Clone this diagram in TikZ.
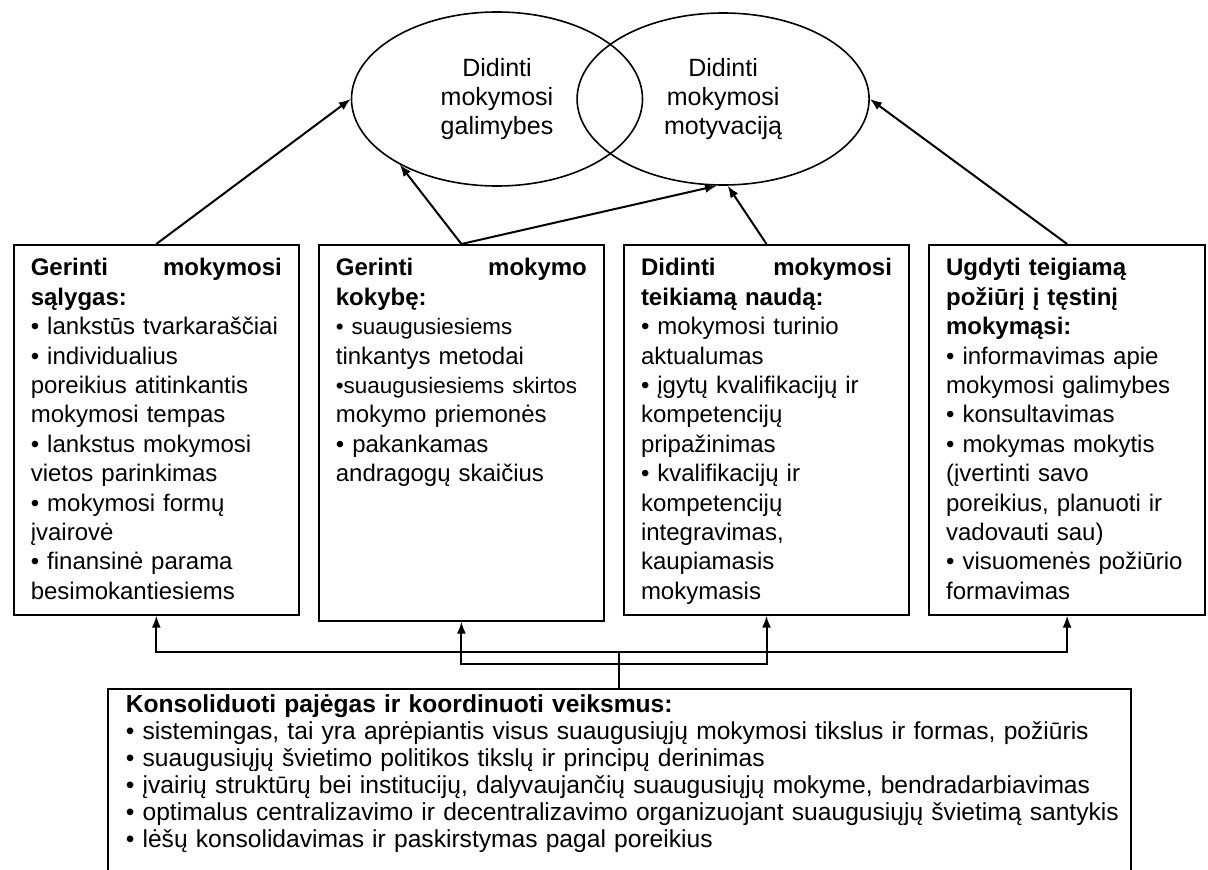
\documentclass[tikz,border=0pt]{standalone}
\usepackage{fontspec}
\setmainfont{Liberation Sans}
\usetikzlibrary{positioning,arrows.meta,shapes}
\tikzstyle{goalell}=[ellipse, draw, line width=1.6pt, inner sep=0pt, align=center,
font=\fontsize{25}{29}\selectfont]
\tikzstyle{taskbox}=[rectangle, draw, line width=1.6pt, inner xsep=17pt, inner ysep=13pt,
text width=251pt, align=left, text height=18pt, text depth=326pt, font=\fontsize{24}{29.4}\selectfont]
\tikzstyle{basebox}=[rectangle, draw, line width=1.6pt, inner xsep=18pt, inner ysep=6pt,
text width=987pt, align=left, text height=18pt, text depth=200pt, font=\fontsize{24.6}{27}\selectfont]
\tikzstyle{line}=[-, line width=2pt]
\tikzstyle{arr}=[-{Latex[length=12pt,width=9pt]}, line width=2pt]

\begin{document}
\begin{tikzpicture}[x=1pt, y=-1pt]

    \useasboundingbox (0,0) rectangle (1208,870);

% Goals
    \node (galim) [goalell, minimum width=291pt, minimum height=174pt] at (497,99) {Didinti\\ mokymosi\\ galimybes};
    \node (motyv) [goalell, minimum width=292pt, minimum height=172pt, right=-67pt of galim] {Didinti\\ mokymosi\\ motyvaciją};

% Tasks
    \node (salyg) [taskbox, anchor=north west] at (13,244)
        {\textbf{Gerinti\hfill mokymosi}\hspace*{15pt}\\ \textbf{sąlygas:}\\
        • lankstūs tvarkaraščiai\\ • individualius\\ poreikius atitinkantis\\ mokymosi tempas\\
        • lankstus mokymosi\\ vietos parinkimas\\ • mokymosi formų\\ įvairovė\\
        • finansinė parama\\ besimokantiesiems};
    \node (kokyb) [taskbox, text depth=332pt, right=18.5pt of salyg.north east, anchor=north west]
        {\textbf{Gerinti\hfill mokymo}\hspace*{37pt}\\ \textbf{kokybę:}\\
        {\fontsize{22.4}{29.4}\selectfont • suaugusiesiems}\\ tinkantys metodai\\
        \mbox{\fontsize{22.4}{29.4}\selectfont •suaugusiesiems skirtos}\\ mokymo priemonės\\
        • pakankamas\\ andragogų skaičius};
    \node (nauda) [taskbox, right=18.5pt of kokyb.north east, anchor=north west]
        {\textbf{Didinti\hfill mokymosi}\hspace*{19pt}\\ \textbf{teikiamą naudą:}\\
        • mokymosi turinio\\ aktualumas\\ • įgytų kvalifikacijų ir\\ kompetencijų\\ pripažinimas\\
        • kvalifikacijų ir\\ kompetencijų\\ integravimas,\\ kaupiamasis\\ mokymasis};
    \node (pozir) [taskbox, text width=242pt, right=18.5pt of nauda.north east, anchor=north west]
        {\textbf{Ugdyti teigiamą}\\ \textbf{požiūrį į tęstinį}\\ \textbf{mokymąsi:}\\
        • informavimas apie\\ mokymosi galimybes\\ • konsultavimas\\ • mokymas mokytis\\
        (įvertinti savo\\ poreikius, planuoti ir\\ vadovauti sau)\\ • visuomenės požiūrio\\ formavimas};

% Consolidation
    \node (konsol) [basebox, anchor=north west] at (107,688)
        {\textbf{Konsoliduoti pajėgas ir koordinuoti veiksmus:}\\
        • sistemingas, tai yra aprėpiantis visus suaugusiųjų mokymosi tikslus ir formas, požiūris\\
        • suaugusiųjų švietimo politikos tikslų ir principų derinimas\\
        • įvairių struktūrų bei institucijų, dalyvaujančių suaugusiųjų mokyme, bendradarbiavimas\\
        \mbox{• optimalus centralizavimo ir decentralizavimo organizuojant suaugusiųjų švietimą santykis}\\
        • lėšų konsolidavimas ir paskirstymas pagal poreikius};

    \coordinate (hub) at ([yshift=36pt]konsol.north);
    \coordinate (hubin) at ([yshift=24pt]konsol.north);

   \draw[arr] (salyg.north) -- (galim.west);
   \draw[arr] (kokyb.north) -- (galim.214);
   \draw[arr] (kokyb.north) -- (motyv.266);
   \draw[arr] (nauda.north) -- (motyv.273);
   \draw[arr] (pozir.north) -- (motyv.east);

   \draw[line] (konsol.north) -- (hub);
   \draw[arr] (hub) -| (salyg.south);
   \draw[arr] (hub) -| (pozir.south);
   \draw[arr] (hubin) -| (kokyb.south);
   \draw[arr] (hubin) -| (nauda.south);

\end{tikzpicture}
\end{document}
